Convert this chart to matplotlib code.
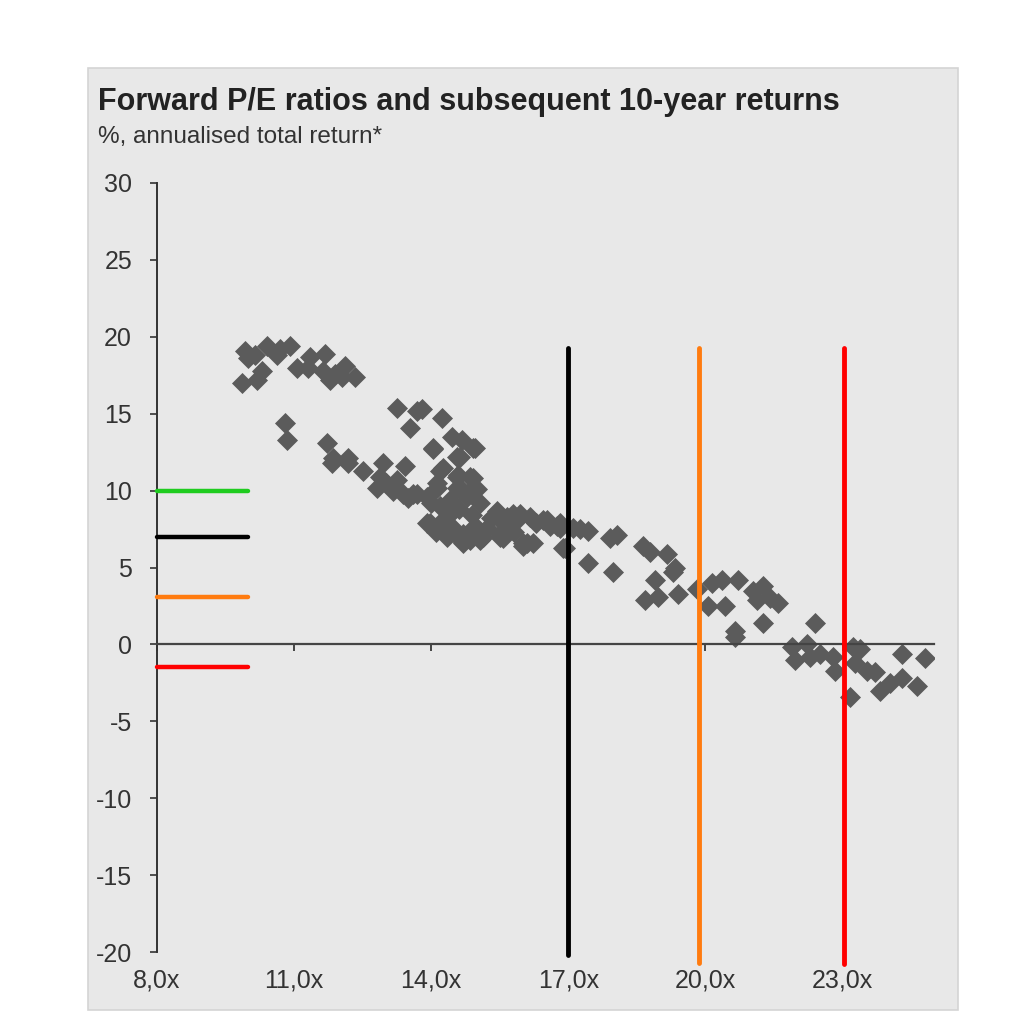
import matplotlib
matplotlib.use("Agg")
import matplotlib.pyplot as plt
from matplotlib.patches import Rectangle

plt.rcParams['font.family'] = ['Liberation Sans', 'DejaVu Sans']

# forward P/E (x) and subsequent 10-year annualised return (%)
pe = [9.93, 10.41, 10.91, 10.14, 10.63, 11.35, 11.68, 11.06, 11.30, 10.30,
      9.86, 10.19, 11.63, 12.11, 11.79, 12.33, 12.05, 10.0, 10.7, 11.9,
      10.80, 10.84, 11.72, 11.85, 12.18, 12.51, 12.95,
      13.25, 13.69, 13.80, 13.54, 14.24, 14.46, 14.67, 14.96, 14.04, 14.63,
      13.43, 14.19, 14.59, 14.91, 13.25, 14.13, 14.63, 15.00, 13.60, 13.91,
      14.78, 13.16, 15.07, 15.44, 15.79, 16.16, 16.53, 16.82, 13.91, 14.26,
      14.48, 14.85, 15.22, 15.51, 14.70, 15.07, 16.01, 16.23, 16.88, 14.35,
      11.83, 12.18, 12.88, 12.81, 13.38, 13.69, 14.19, 14.41, 13.97, 14.26,
      14.70, 14.85, 15.13, 15.51, 15.88, 16.10, 16.45, 16.82, 14.04, 14.56,
      14.91, 14.26, 14.56, 14.85, 14.13, 14.56, 14.91,
      13.0, 13.5, 14.0, 14.4, 14.6, 14.9, 15.3, 15.6, 14.1, 14.6,
      15.0, 15.8, 16.3, 16.6, 17.1,
      15.66, 15.94, 16.75, 17.26, 17.43, 15.57, 16.01, 16.93, 17.91, 18.07,
      17.43, 17.98, 18.63, 18.79, 19.16, 19.33, 19.29, 18.90, 18.68, 18.96,
      19.40, 19.82, 20.14, 20.36, 20.71, 20.06, 20.43, 21.04, 21.26, 21.13,
      21.41, 21.59, 21.26, 20.65, 20.65, 22.40, 21.89, 21.96, 22.22, 22.29,
      22.51, 22.79, 22.84, 23.23, 23.38, 23.27, 23.54, 23.71, 23.16, 23.82,
      24.04, 24.30, 24.63, 24.30, 24.81]
ret = [19.1, 19.4, 19.4, 18.8, 18.8, 18.7, 18.9, 17.95, 17.95, 17.8,
       17.0, 17.2, 17.8, 18.1, 17.2, 17.4, 17.4, 18.6, 19.2, 17.6,
       14.4, 13.3, 13.1, 12.1, 12.1, 11.3, 11.8,
       15.4, 15.2, 15.3, 14.1, 14.7, 13.5, 13.3, 12.8, 12.7, 12.2,
       11.6, 11.3, 11.0, 10.8, 10.7, 10.2, 10.2, 10.1, 9.8, 9.6,
       9.6, 10.0, 9.2, 8.7, 8.5, 8.3, 8.1, 7.9, 7.9, 8.1,
       7.6, 7.4, 7.6, 7.0, 6.6, 6.8, 6.6, 6.6, 6.3, 7.0,
       11.8, 11.8, 10.9, 10.2, 9.8, 9.8, 9.0, 8.5, 7.9, 7.6,
       7.2, 6.8, 7.0, 7.2, 8.1, 6.6, 8.1, 7.6, 12.8, 12.2,
       12.8, 11.5, 10.9, 10.9, 10.5, 10.2, 10.2,
       10.5, 9.5, 9.2, 9.4, 8.8, 8.4, 8.2, 7.8, 7.3, 6.9,
       7.6, 7.3, 7.9, 7.7, 7.6,
       8.3, 8.5, 7.7, 7.5, 7.4, 6.9, 6.4, 6.3, 6.9, 7.1,
       5.3, 4.7, 6.4, 6.0, 5.9, 5.0, 4.7, 4.2, 2.9, 3.1,
       3.3, 3.6, 4.0, 4.2, 4.2, 2.5, 2.5, 3.5, 3.8, 2.9,
       3.0, 2.7, 1.4, 0.9, 0.5, 1.4, -0.2, -1.0, 0.0, -0.85,
       -0.6, -0.85, -1.7, -0.2, -0.3, -1.2, -1.7, -1.8, -3.45, -3.0,
       -2.5, -2.2, -2.7, -0.6, -0.9]

# reference levels: return level (left stubs) and P/E level (vertical lines)
ref_colors = ['#1fcc1f', 'black', '#ff7b0f', '#ff0000']
ref_returns = [10.0, 7.0, 3.05, -1.5]
vline_pe = [17.0, 19.86, 23.03]
vline_colors = ['black', '#ff7b0f', '#ff0000']
vline_bottom = [-20.2, -20.7, -20.8]
vline_top = 19.3

xticks = [8, 11, 14, 17, 20, 23]
xticklabels = ['8,0x', '11,0x', '14,0x', '17,0x', '20,0x', '23,0x']
yticks = list(range(-20, 31, 5))

fig = plt.figure(figsize=(10.24, 10.24), dpi=100)
fig.patch.set_facecolor('white')
fig.patches.append(Rectangle((88/1024, 1 - 1010/1024), 870/1024, 942/1024,
                             transform=fig.transFigure, facecolor='#e8e8e8',
                             edgecolor='#d4d4d4', lw=1.2, zorder=-10))

ax = fig.add_axes([157/1024, 1 - 952/1024, 777/1024, 769/1024])
ax.set_facecolor('none')
ax.set_xlim(8, 25)
ax.set_ylim(-20, 30)

ax.scatter(pe, ret, marker='D', s=115, color='#5b5b5b', linewidths=0, zorder=2)

for c, r in zip(ref_colors, ref_returns):
    ax.plot([8, 10], [r, r], color=c, lw=3.2, solid_capstyle='round', zorder=3, clip_on=False)
for c, x, b in zip(vline_colors, vline_pe, vline_bottom):
    ax.plot([x, x], [b, vline_top], color=c, lw=3.5, solid_capstyle='round', zorder=3, clip_on=False)

for s in ['top', 'right']:
    ax.spines[s].set_visible(False)
ax.spines['bottom'].set_position(('data', 0))
ax.spines['bottom'].set_color('#444444')
ax.spines['bottom'].set_linewidth(1.6)
ax.spines['left'].set_color('#333333')
ax.spines['left'].set_linewidth(1.4)

ax.set_yticks(yticks)
ax.set_yticklabels([str(v) for v in yticks])
ax.tick_params(axis='y', direction='out', length=5, width=1.2, color='#333333',
               labelsize=18, labelcolor='#333333', pad=13)
ax.set_xticks(xticks)
ax.tick_params(axis='x', direction='out', length=5, width=1.4, color='#444444',
               labelbottom=False)

sec = ax.secondary_xaxis('bottom')
sec.set_xticks(xticks)
sec.set_xticklabels(xticklabels, family=['Liberation Sans Narrow', 'Liberation Sans'])
sec.spines['bottom'].set_visible(False)
sec.tick_params(axis='x', length=0, labelsize=18, labelcolor='#333333', pad=12)

fig.text(98/1024, 1 - 102/1024, 'Forward P/E ratios and subsequent 10-year returns',
         fontsize=22, fontweight='bold', color='#222222', va='center', ha='left')
fig.text(98/1024, 1 - 137/1024, '%, annualised total return*',
         fontsize=17.5, color='#333333', va='center', ha='left')

fig.savefig('out.png', dpi=100)
